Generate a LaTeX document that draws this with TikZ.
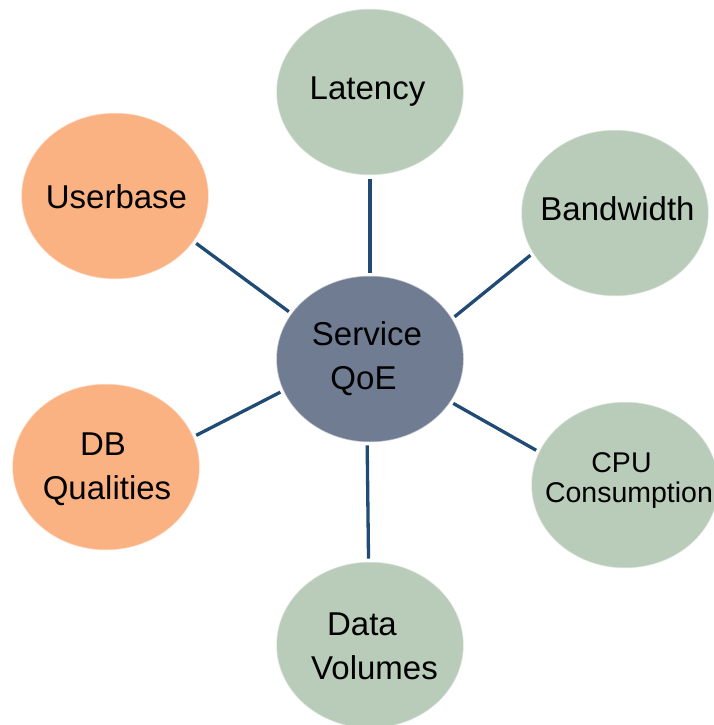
\documentclass[tikz,border=0pt]{standalone}
\usepackage{fontspec}
\setmainfont{Liberation Sans}
\usetikzlibrary{shapes.geometric}
\definecolor{sage}{RGB}{185,203,185}
\definecolor{peach}{RGB}{251,178,131}
\definecolor{slate}{RGB}{111,124,145}
\definecolor{linkc}{RGB}{31,75,116}
\begin{document}
\begin{tikzpicture}[x=1pt,y=-1pt,
  bubble/.style={ellipse, minimum width=186pt, minimum height=165pt,
    inner sep=0pt, outer sep=0pt, line width=1.5pt, draw opacity=0.45},
  green/.style={bubble, fill=sage, draw=sage},
  orange/.style={bubble, fill=peach, draw=peach},
  hub/.style={bubble, fill=slate, draw=slate},
  lbl/.style={font=\fontsize{33}{44}\selectfont, align=center, inner sep=0pt},
  small/.style={font=\fontsize{28.5}{29.5}\selectfont, align=center, inner sep=0pt},
  link/.style={draw=linkc, line width=3.3pt, shorten <=4pt, shorten >=4pt}
]
\useasboundingbox (0,0) rectangle (714,725);

% bubbles
\node[hub]    (svc)  at (370,359) {};
\node[green]  (lat)  at (370,92)  {};
\node[green]  (bw)   at (615,213) {};
\node[green]  (cpu)  at (625,485) {};
\node[green]  (data) at (370,645) {};
\node[orange] (db)   at (106,467) {};
\node[orange] (user) at (115,196) {};

% captions
\node[lbl, anchor=base] (latT)  at (367.5,99)  {Latency};
\node[lbl, anchor=base] (bwT)   at (617.5,220) {Bandwidth};
\node[lbl, anchor=base] (userT) at (116.5,208) {Userbase};
\node[lbl] (svcT)  at (367,358.5) {Service\\QoE\hspace*{7pt}};
\node[lbl] (dbT)   at (107,469)   {DB\hspace*{8pt}\\Qualities};
\node[lbl] (dataT) at (374.5,646) {Data\hspace*{25pt}\\Volumes};
\node[small] (cpuT) at (629,480.5) {CPU\hspace*{15pt}\\Consumption};

% spokes
\draw[link] (lat.270)    -- (svc.90);
\draw[link] (bw.206.6)   -- (svc.26.3);
\draw[link] (cpu.159.4)  -- (svc.-28.5);
\draw[link] (data.91)    -- (svc.268);
\draw[link] (db.19)      -- (svc.200);
\draw[link] (user.-30)   -- (svc.150.5);
\end{tikzpicture}
\end{document}
